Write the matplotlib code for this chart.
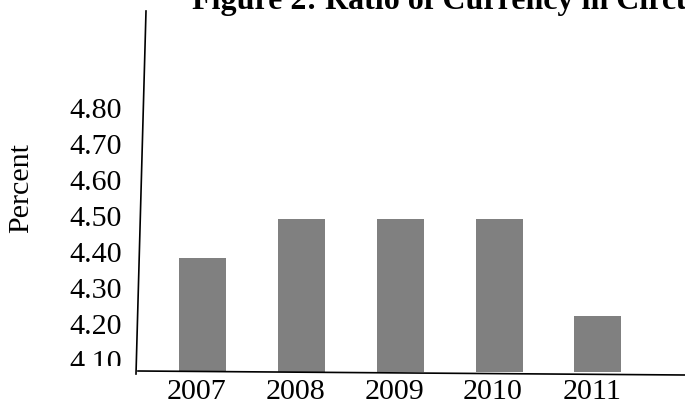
import matplotlib
matplotlib.use('Agg')
import matplotlib.pyplot as plt
from matplotlib.lines import Line2D
from matplotlib.patches import Rectangle
import matplotlib.transforms as mtransforms

# данные с рисунка
years = ['2007', '2008', '2009', '2010', '2011']
ratio = [4.38, 4.49, 4.49, 4.49, 4.22]
yticks = [4.10, 4.20, 4.30, 4.40, 4.50, 4.60, 4.70, 4.80]
title = 'Figure 2: Ratio of Currency in Circulation'

W, H = 685, 410
plt.rcParams['font.family'] = ['Liberation Serif', 'DejaVu Serif']

fig = plt.figure(figsize=(W / 100, H / 100), dpi=100)
ax = fig.add_axes([140 / W, 1 - 373 / H, 545 / W, 363 / H])

x = list(range(len(years)))
ax.bar(x, ratio, width=0.475, color='#808080', bottom=0)
ax.set_xlim(-0.63, 4.88)
ax.set_ylim(4.064, 5.072)

ax.set_yticks(yticks)
ax.set_yticklabels(['%.2f' % v for v in yticks], fontsize=21.6)
ax.set_xticks(x)
ax.set_xticklabels(years, fontsize=21.6)
ax.tick_params(axis='both', length=0)
ax.tick_params(axis='y', pad=13)
ax.tick_params(axis='x', pad=4)

# сдвиг подписей лет чуть влево, как в оригинале
shift = mtransforms.ScaledTranslation(-6 / 100, 0, fig.dpi_scale_trans)
for lab in ax.get_xticklabels():
    lab.set_transform(lab.get_transform() + shift)

# нижняя подпись 4.10 обрезана
clip = Rectangle((0, 0), 140, H - 367, transform=None)
for lab in ax.get_yticklabels():
    lab.set_clip_path(Rectangle((0, 410 - 367), 140, 367,
                                transform=None))

for s in ax.spines.values():
    s.set_visible(False)

# перекошенные оси
fig.add_artist(Line2D([146 / W, 136 / W], [1 - 12 / H, 1 - 375 / H],
                      color='black', lw=1.2, transform=fig.transFigure))
fig.add_artist(Line2D([138 / W, 685 / W], [1 - 372 / H, 1 - 376 / H],
                      color='black', lw=1.2, transform=fig.transFigure))

fig.text(21 / W, 1 - 188 / H, 'Percent', rotation=90, fontsize=21.6,
         ha='center', va='center')
fig.text(192 / W, 1 - 9.5 / H, title, fontsize=23, fontweight='bold',
         ha='left', va='baseline')

fig.savefig('out.png', dpi=100)
